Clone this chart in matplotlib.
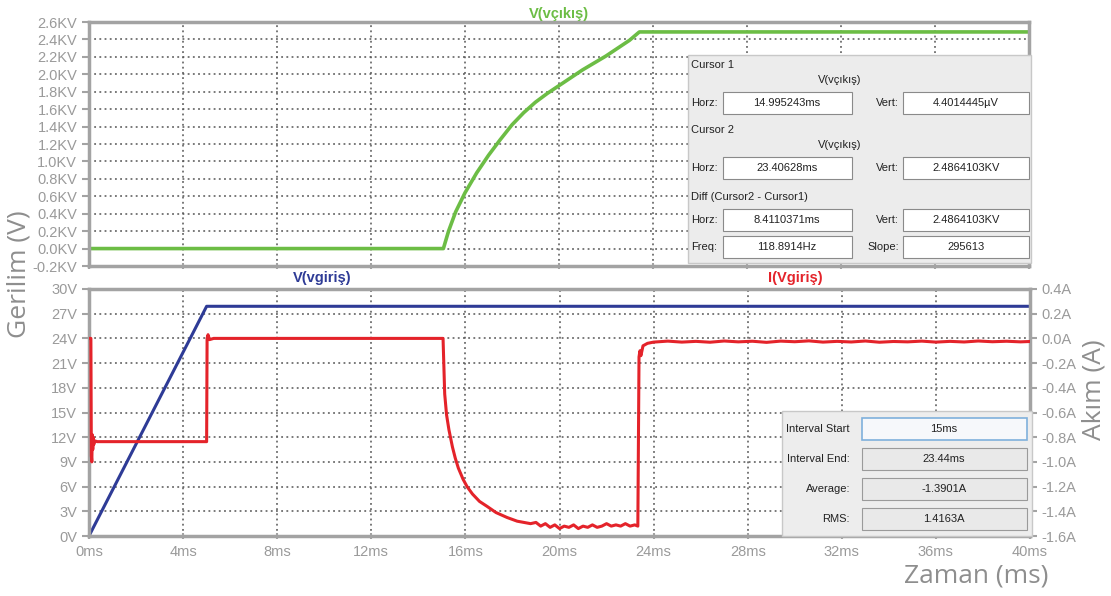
import matplotlib
matplotlib.use("Agg")
import matplotlib.pyplot as plt
from matplotlib.patches import Rectangle
from matplotlib.ticker import FixedLocator

# --- data (time in ms) ---
t_out = [0, 15.08, 15.3, 15.6, 16.0, 16.5, 17.0, 17.5, 18.0, 18.5, 19.0, 19.5, 20.0,
         20.5, 21.0, 21.5, 22.0, 22.5, 23.0, 23.42, 40]
v_out = [0, 0, 0.20, 0.42, 0.64, 0.87, 1.07, 1.25, 1.42, 1.56, 1.68, 1.78, 1.87,
         1.96, 2.05, 2.13, 2.21, 2.30, 2.39, 2.486, 2.486]  # kV

t_in = [0, 5.0, 40]
v_in = [0, 27.9, 27.9]  # V

t_cur = [0, 0.08, 0.10, 0.12, 0.14, 0.16, 0.18, 0.20, 0.25, 0.35, 5.0, 5.02, 5.06, 5.12, 5.3,
         15.05, 15.12, 15.2, 15.3, 15.45, 15.57, 15.7, 15.9, 16.07, 16.3, 16.6, 16.92, 17.3,
         17.77, 18.2, 18.77,
         19.0, 19.2, 19.4, 19.6, 19.8, 20.0, 20.2, 20.4, 20.6, 20.8, 21.0, 21.2, 21.4, 21.6,
         21.8, 22.0, 22.2, 22.4, 22.6, 22.8, 23.0, 23.2, 23.33,
         23.38, 23.42, 23.46, 23.55, 23.74, 24.0, 24.6, 25.2, 25.8, 26.4, 27.0, 27.6, 28.2,
         28.8, 29.4, 30.0, 30.6, 31.2, 31.8, 32.4, 33.0, 33.6, 34.2, 34.8, 35.4, 36.0, 36.6,
         37.2, 37.8, 38.4, 39.0, 39.6, 40.0]
i_cur = [0.0, 0.0, -0.95, -1.0, -0.78, -0.9, -0.80, -0.86, -0.83, -0.836, -0.836, 0.0, 0.03, -0.01, 0.0,
         0.0, -0.45, -0.62, -0.74, -0.88, -0.97, -1.05, -1.14, -1.20, -1.26, -1.32, -1.36, -1.41,
         -1.45, -1.48, -1.50,
         -1.49, -1.52, -1.50, -1.53, -1.51, -1.54, -1.52, -1.53, -1.51, -1.54, -1.52, -1.53, -1.51, -1.53,
         -1.52, -1.50, -1.52, -1.51, -1.52, -1.50, -1.52, -1.51, -1.52,
         -0.15, -0.10, -0.14, -0.06, -0.04, -0.03, -0.022, -0.03, -0.024, -0.031, -0.021, -0.028, -0.023,
         -0.032, -0.022, -0.027, -0.020, -0.030, -0.024, -0.029, -0.021, -0.031, -0.025, -0.028, -0.022, -0.030,
         -0.024, -0.029, -0.021, -0.027, -0.023, -0.028, -0.025]

x_ticks = list(range(0, 41, 4))
top_ticks = [-0.2 + 0.2 * k for k in range(15)]
bot_ticks = list(range(0, 31, 3))
right_ticks = [0.4 - 0.2 * k for k in range(11)]

cursor_rows = [("Cursor 1", "V(vçıkış)", ("Horz:", "14.995243ms", "Vert:", "4.4014445µV")),
               ("Cursor 2", "V(vçıkış)", ("Horz:", "23.40628ms", "Vert:", "2.4864103KV"))]
diff_rows = [("Horz:", "8.4110371ms", "Vert:", "2.4864103KV"),
             ("Freq:", "118.8914Hz", "Slope:", "295613")]
stats = [("Interval Start", "15ms"), ("Interval End:", "23.44ms"),
         ("Average:", "-1.3901A"), ("RMS:", "1.4163A")]

GREEN = "#6cbd45"
BLUE = "#2e3b96"
RED = "#e4232a"
GRAY = "#a3a3a3"
TXT = "#9a9a9a"

plt.rcParams['font.family'] = ['Liberation Sans', 'DejaVu Sans']

W, H = 1111, 596
fig = plt.figure(figsize=(W / 100, H / 100), dpi=100)


def box(x0, y0, x1, y1):
    return [x0 / W, 1 - y1 / H, (x1 - x0) / W, (y1 - y0) / H]


def style(ax):
    for s in ax.spines.values():
        s.set_color(GRAY)
        s.set_linewidth(2.5)
    ax.tick_params(colors=GRAY, labelcolor=TXT, labelsize=10.5, length=5, width=1.5)
    ax.grid(True, color="#555555", linestyle=(0, (1.2, 2.2)), linewidth=1.1)
    ax.set_xlim(0, 40)
    ax.xaxis.set_major_locator(FixedLocator(x_ticks))


ax1 = fig.add_axes(box(89, 22, 1029, 266))
style(ax1)
ax1.plot(t_out, v_out, color=GREEN, lw=2.6)
ax1.set_ylim(-0.2, 2.6)
ax1.set_yticks(top_ticks)
ax1.set_yticklabels([f"{v:.1f}KV".replace("-0.0", "0.0") for v in top_ticks])
ax1.tick_params(axis="x", labelbottom=False, direction="inout")
ax1.set_title("V(vçıkış)", color=GREEN, fontsize=10.5, fontweight="bold", pad=3)

ax2 = fig.add_axes(box(89, 289, 1030, 536))
style(ax2)
ax2.plot(t_in, v_in, color=BLUE, lw=2.2)
ax2.set_ylim(0, 30)
ax2.set_yticks(bot_ticks)
ax2.set_yticklabels([f"{v}V" for v in bot_ticks])
ax2.set_xticklabels([f"{v}ms" for v in x_ticks])
ax2.tick_params(axis="x", direction="inout", pad=4)

ax3 = ax2.twinx()
ax3.plot(t_cur, i_cur, color=RED, lw=2.2)
ax3.set_ylim(-1.6, 0.4)
ax3.set_yticks(right_ticks)
ax3.set_yticklabels([f"{v:.1f}A".replace("-0.0", "0.0") for v in right_ticks])
for s in ax3.spines.values():
    s.set_visible(False)
ax3.tick_params(colors=GRAY, labelcolor=TXT, labelsize=10.5, length=5, width=1.5)

fig.text(322 / W, 1 - 278 / H, "V(vgiriş)", color=BLUE, fontsize=10.5, fontweight="bold",
         ha="center", va="center")
fig.text(795 / W, 1 - 278 / H, "I(Vgiriş)", color=RED, fontsize=10.5, fontweight="bold",
         ha="center", va="center")

# axis titles
big = dict(color="#8e8e8e", fontsize=19, family=["Open Sans", "DejaVu Sans"], ha="center", va="center")
fig.text(19 / W, 1 - 274 / H, "Gerilim (V)", rotation=90, **big)
fig.text(1094 / W, 1 - 390 / H, "Akım (A)", rotation=90, **big)
fig.text(976 / W, 1 - 576 / H, "Zaman (ms)", **big)


def rect(x0, y0, x1, y1, fc, ec, lw=1.0, z=5):
    fig.patches.append(Rectangle((x0 / W, 1 - y1 / H), (x1 - x0) / W, (y1 - y0) / H,
                                 transform=fig.transFigure, fc=fc, ec=ec, lw=lw, zorder=z))


def txt(x, y, s, ha="left", size=8):
    fig.text(x / W, 1 - y / H, s, ha=ha, va="center", fontsize=size, color="#222222", zorder=10)


# cursor panel
rect(688, 55, 1031, 263, "#ececec", "#c8c8c8", 1.0)
y = 65
for name, trace, row in cursor_rows:
    txt(691, y, name)
    txt(840, y + 15, trace, ha="center")
    ry = y + 38
    rect(723, ry - 11, 852, ry + 11, "white", "#8a8a8a", 0.8, 6)
    rect(903, ry - 11, 1029, ry + 11, "white", "#8a8a8a", 0.8, 6)
    txt(691, ry, row[0])
    txt(787, ry, row[1], ha="center")
    txt(899, ry, row[2], ha="right")
    txt(966, ry, row[3], ha="center")
    y += 65
txt(691, 197, "Diff (Cursor2 - Cursor1)")
for ry, row in zip([220, 247], diff_rows):
    rect(723, ry - 11, 852, ry + 11, "white", "#8a8a8a", 0.8, 6)
    rect(903, ry - 11, 1029, ry + 11, "white", "#8a8a8a", 0.8, 6)
    txt(691, ry, row[0])
    txt(787, ry, row[1], ha="center")
    txt(899, ry, row[2], ha="right")
    txt(966, ry, row[3], ha="center")

# statistics panel
rect(782, 411, 1032, 536, "#ededed", "#c8c8c8", 1.0)
for k, (lab, val) in enumerate(stats):
    ry = 429 + 30 * k
    if k == 0:
        rect(862, ry - 11, 1027, ry + 11, "#f6f8fb", "#7fb0dc", 1.2, 6)
    else:
        rect(862, ry - 11, 1027, ry + 11, "#e9e9e9", "#9a9a9a", 0.8, 6)
    txt(850, ry, lab, ha="right")
    txt(944, ry, val, ha="center")

fig.savefig("out.png", dpi=100, facecolor="white")
